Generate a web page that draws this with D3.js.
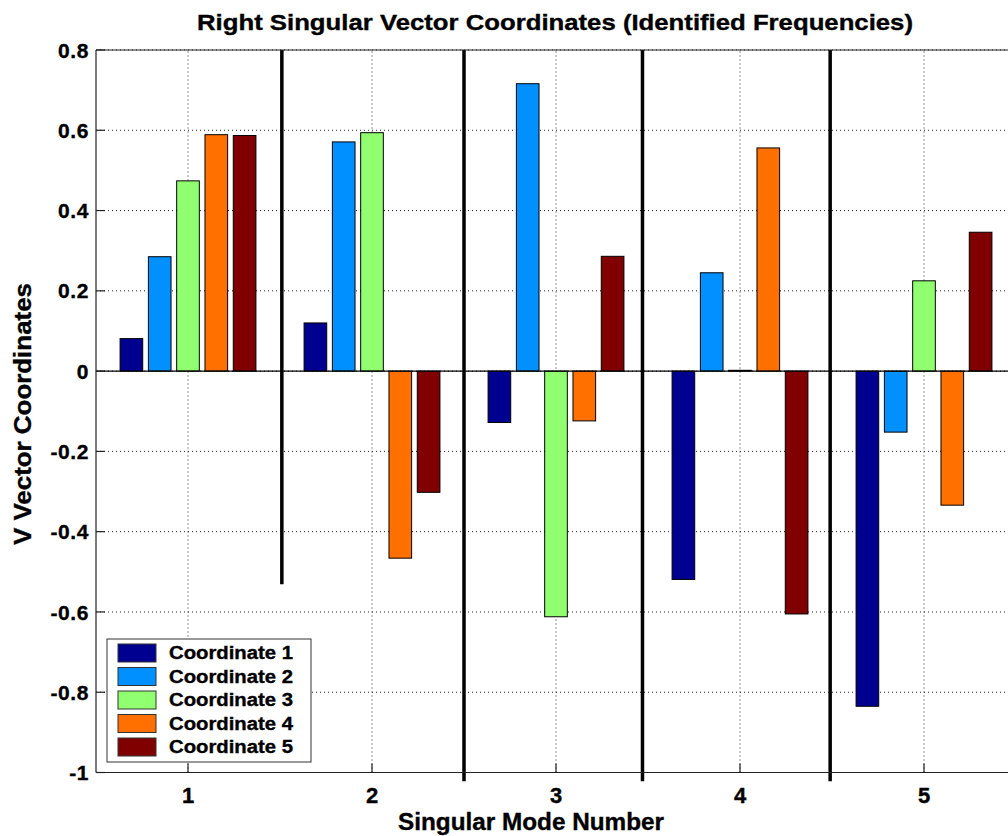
<!DOCTYPE html>
<html>
<head>
<meta charset="utf-8">
<script src="https://cdn.jsdelivr.net/npm/d3@7/dist/d3.min.js"></script>
<style>
  body { margin: 0; background: #fff; }
  svg text { font-family: "Liberation Sans", Arial, sans-serif; font-weight: bold; fill: #000; stroke: #000; stroke-width: 0.35px; }
</style>
</head>
<body>
<div id="chart"></div>
<script>
// ---- data ----
const modes = [1, 2, 3, 4, 5];
const seriesNames = ["Coordinate 1", "Coordinate 2", "Coordinate 3", "Coordinate 4", "Coordinate 5"];
const seriesColors = ["#000090", "#0090ff", "#90ff70", "#ff7000", "#800000"];
const coord1 = [0.081, 0.120, -0.128, -0.519, -0.835];
const coord2 = [0.285, 0.571, 0.716, 0.245, -0.152];
const coord3 = [0.474, 0.594, -0.612, 0.002, 0.225];
const coord4 = [0.589, -0.466, -0.124, 0.556, -0.334];
const coord5 = [0.587, -0.302, 0.286, -0.605, 0.346];
const yTicks = [-1, -0.8, -0.6, -0.4, -0.2, 0, 0.2, 0.4, 0.6, 0.8];
// thick separators between modes: x position and lower end
const dividerX = [1.51, 2.5, 3.47, 4.49];
const dividerBottom = [-0.531, -1.012, -1.012, -1.012];

const allSeries = [coord1, coord2, coord3, coord4, coord5];

const W = 1008, H = 836;
const margin = {top: 50, left: 96};
const plotW = 920, plotH = 722.5;

const svg = d3.select("#chart").append("svg")
    .attr("width", W).attr("height", H);

const x = d3.scaleLinear().domain([0.5, 5.5]).range([margin.left, margin.left + plotW]);
const y = d3.scaleLinear().domain([-1, 0.8]).range([margin.top + plotH, margin.top]);

// bar offsets inside a group (MATLAB-like grouped bars)
const groupWidth = 0.769;
const inner = d3.scaleBand()
    .domain(d3.range(seriesNames.length))
    .range([-groupWidth / 2, groupWidth / 2])
    .paddingInner(0.2)
    .paddingOuter(0.1);

svg.append("clipPath").attr("id", "plotclip")
    .append("rect")
    .attr("x", margin.left).attr("y", margin.top - 2)
    .attr("width", plotW).attr("height", plotH + 10);

const plot = svg.append("g").attr("clip-path", "url(#plotclip)");

// grid
plot.append("g")
    .selectAll("line")
    .data(yTicks)
    .enter().append("line")
    .attr("x1", x(0.5)).attr("x2", x(5.5))
    .attr("y1", d => y(d)).attr("y2", d => y(d))
    .attr("stroke", "#222").attr("stroke-width", 1)
    .attr("stroke-dasharray", "1,3");
plot.append("g")
    .selectAll("line")
    .data(modes)
    .enter().append("line")
    .attr("x1", d => x(d)).attr("x2", d => x(d))
    .attr("y1", y(-1)).attr("y2", y(0.8))
    .attr("stroke", "#222").attr("stroke-width", 1)
    .attr("stroke-dasharray", "1,3");

// bars
allSeries.forEach((vals, si) => {
    plot.append("g")
        .selectAll("rect")
        .data(vals)
        .enter().append("rect")
        .attr("x", (d, i) => x(modes[i] + inner(si)))
        .attr("width", x(inner.bandwidth()) - x(0))
        .attr("y", d => y(Math.max(0, d)))
        .attr("height", d => Math.abs(y(d) - y(0)))
        .attr("fill", seriesColors[si])
        .attr("stroke", "#000").attr("stroke-width", 1);
});

// zero baseline
plot.append("line")
    .attr("x1", x(0.5)).attr("x2", x(5.5))
    .attr("y1", y(0)).attr("y2", y(0))
    .attr("stroke", "#000").attr("stroke-width", 1.2);

// thick separators
svg.append("g")
    .selectAll("line")
    .data(dividerX)
    .enter().append("line")
    .attr("x1", d => x(d)).attr("x2", d => x(d))
    .attr("y1", y(0.8)).attr("y2", (d, i) => y(dividerBottom[i]) + (i > 0 ? 4 : 0))
    .attr("stroke", "#000").attr("stroke-width", 3.5);

// axes box (left, top, bottom)
const axisG = svg.append("g").attr("stroke", "#222").attr("stroke-width", 1.2);
axisG.append("line").attr("x1", x(0.5)).attr("x2", x(0.5)).attr("y1", y(0.8)).attr("y2", y(-1));
axisG.append("line").attr("x1", x(0.5)).attr("x2", W).attr("y1", y(0.8)).attr("y2", y(0.8));
axisG.append("line").attr("x1", x(0.5)).attr("x2", W).attr("y1", y(-1)).attr("y2", y(-1));

// tick marks
axisG.selectAll(".yt").data(yTicks).enter().append("line")
    .attr("x1", x(0.5)).attr("x2", x(0.5) + 9)
    .attr("y1", d => y(d)).attr("y2", d => y(d));
axisG.selectAll(".xt").data(modes).enter().append("line")
    .attr("x1", d => x(d)).attr("x2", d => x(d))
    .attr("y1", y(-1)).attr("y2", y(-1) - 9);

// tick labels (plain hyphen minus, like the original)
svg.append("g").selectAll("text")
    .data(yTicks)
    .enter().append("text")
    .attr("x", x(0.5) - 7)
    .attr("y", d => y(d))
    .attr("dy", "0.36em")
    .attr("text-anchor", "end")
    .attr("letter-spacing", "0.6")
    .style("font-size", "21px")
    .text(d => String(+d.toFixed(1)));
svg.append("g").selectAll("text")
    .data(modes)
    .enter().append("text")
    .attr("x", d => x(d))
    .attr("y", y(-1) + 30)
    .attr("text-anchor", "middle")
    .style("font-size", "22px")
    .text(d => d);

// titles
svg.append("text")
    .attr("x", 555).attr("y", 30)
    .attr("text-anchor", "middle")
    .attr("textLength", 716).attr("lengthAdjust", "spacingAndGlyphs")
    .style("font-size", "22px")
    .text("Right Singular Vector Coordinates (Identified Frequencies)");
svg.append("text")
    .attr("x", 531).attr("y", 830)
    .attr("text-anchor", "middle")
    .attr("textLength", 266).attr("lengthAdjust", "spacingAndGlyphs")
    .style("font-size", "23px")
    .text("Singular Mode Number");
svg.append("text")
    .attr("transform", "translate(31,414) rotate(-90)")
    .attr("text-anchor", "middle")
    .attr("textLength", 262).attr("lengthAdjust", "spacingAndGlyphs")
    .style("font-size", "23px")
    .text("V Vector Coordinates");

// legend
const leg = svg.append("g").attr("transform", "translate(107,639)");
leg.append("rect")
    .attr("width", 204).attr("height", 123)
    .attr("fill", "#fff").attr("stroke", "#333").attr("stroke-width", 1);
const rows = leg.selectAll("g.row")
    .data(seriesNames)
    .enter().append("g")
    .attr("transform", (d, i) => "translate(0," + (14 + i * 23.5) + ")");
rows.append("rect")
    .attr("x", 11).attr("y", -9)
    .attr("width", 38).attr("height", 18)
    .attr("fill", (d, i) => seriesColors[i])
    .attr("stroke", "#333").attr("stroke-width", 1);
rows.append("text")
    .attr("x", 62).attr("dy", "0.36em")
    .attr("textLength", 124).attr("lengthAdjust", "spacingAndGlyphs")
    .style("font-size", "18px")
    .text(d => d);
</script>
</body>
</html>
